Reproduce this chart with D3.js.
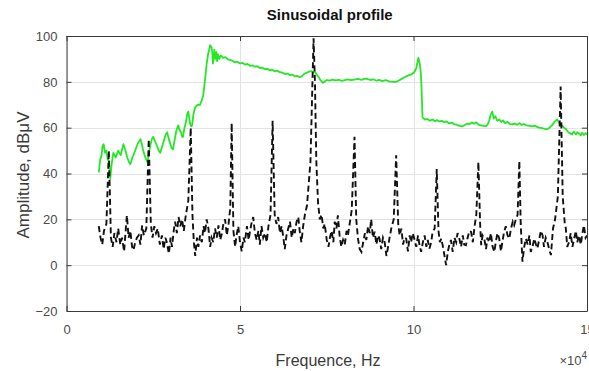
<!DOCTYPE html>
<html><head><meta charset="utf-8">
<script src="https://cdn.jsdelivr.net/npm/d3@7/dist/d3.min.js"></script>
<style>body{margin:0;background:#fff}svg{display:block}</style>
</head><body>
<svg id="c" width="589" height="371"></svg>
<script>
// ---- data (frequency in units of 1e4 Hz, amplitude in dBµV) ----
const freqTicks = [0, 5, 10, 15];
const ampTicks = [-20, 0, 20, 40, 60, 80, 100];

const greenFreq = [0.93,0.97,1.01,1.04,1.07,1.11,1.15,1.19,1.22,1.26,1.30,1.35,1.42,1.49,1.56,1.64,1.70,1.75,1.80,1.84,1.90,1.98,2.05,2.13,2.17,2.21,2.27,2.33,2.37,2.41,2.46,2.50,2.55,2.61,2.66,2.70,2.76,2.82,2.86,2.90,2.95,2.99,3.03,3.07,3.12,3.17,3.22,3.26,3.30,3.33,3.36,3.40,3.45,3.48,3.51,3.54,3.56,3.59,3.62,3.66,3.71,3.78,3.85,3.90,3.94,3.97,4.00,4.04,4.08,4.14,4.18,4.20,4.22,4.24,4.26,4.29,4.32,4.34,4.37,4.40,4.45,4.51,4.58,4.65,4.71,4.78,4.85,4.92,5.00,5.07,5.15,5.22,5.29,5.36,5.43,5.50,5.57,5.64,5.72,5.79,5.86,5.93,6.00,6.07,6.15,6.22,6.30,6.37,6.44,6.51,6.58,6.65,6.72,6.78,6.85,6.93,7.00,7.05,7.10,7.16,7.22,7.27,7.33,7.39,7.45,7.50,7.58,7.67,7.75,7.85,7.93,8.02,8.10,8.20,8.30,8.40,8.50,8.58,8.65,8.75,8.85,8.93,9.02,9.10,9.20,9.30,9.40,9.51,9.58,9.66,9.74,9.82,9.89,9.96,10.03,10.08,10.14,10.18,10.21,10.23,10.26,10.33,10.40,10.47,10.55,10.62,10.68,10.75,10.82,10.88,10.95,11.02,11.10,11.18,11.25,11.33,11.41,11.48,11.55,11.61,11.68,11.75,11.81,11.88,11.95,12.02,12.09,12.14,12.18,12.22,12.27,12.31,12.36,12.41,12.47,12.53,12.58,12.64,12.71,12.78,12.84,12.92,12.99,13.05,13.12,13.18,13.25,13.32,13.42,13.50,13.56,13.62,13.70,13.78,13.85,13.92,13.99,14.06,14.14,14.20,14.28,14.34,14.40,14.46,14.52,14.57,14.62,14.68,14.72,14.77,14.82,14.86,14.91,14.96,15.00];
const greenAmp  = [40.5,46,48,52,52.8,49,50,46,45.5,37.6,44,49,47,50,48,52.8,50,47,45,44,47,50,53,55,53,50,47,45,48,52,55,56,54,52,50,49,52,55,57,58,55,53,51,50.6,55,59,61,59,58,56,56,60,63,66,67,64,62,60.6,61,66,69,70,70,72,74,78,82,88,92,96,95,93,88,90,94,90,93,89,92,90,91.5,90.5,90.8,89.8,89.6,89.2,88.5,88.8,88,88.3,87.5,87.8,87,87.2,86.6,86.8,86,86.2,85.5,85.7,85,85.3,84.6,84.9,84.2,84.0,83.4,83.6,82.9,83.1,82.4,82.6,82,82.4,83.5,84,84.5,84.7,84.3,84.4,83,82,80.5,79.6,80.2,80.8,80.5,81,80.6,80.9,80.4,80.7,81.1,80.7,81,81.3,80.9,81.3,81.4,80.8,81.1,80.5,80.8,80.3,80.7,80.2,80,80,80.6,81.3,82,82.6,83,83.4,84.4,86,90.5,88,84,78,64.5,63.5,63.8,63,63.6,62.8,63.3,62.7,63,62.4,62.7,61.9,62.2,61.5,61.2,60.8,60.6,61.2,61.8,61.5,62.2,61.8,62.3,61.2,61,60.8,60.6,61.5,63,65.5,67,64,65,63,63.6,62.5,63.2,62,62.5,61.5,61.4,61.8,61.2,62,61.2,61.6,61,60.9,60.6,60.9,60.3,60,59.8,59.5,59.3,60,61,62.5,63.6,62,61,60,59.3,58,57.5,57,58.2,57,58,57.5,56.6,57.8,56.8,57.6,57];

const blackFreq = [0.93,0.98,1.03,1.08,1.15,1.22,1.28,1.33,1.38,1.44,1.49,1.55,1.60,1.66,1.70,1.74,1.79,1.84,1.89,1.93,1.98,2.03,2.08,2.13,2.18,2.23,2.30,2.37,2.43,2.48,2.53,2.58,2.63,2.69,2.75,2.80,2.85,2.89,2.95,3.00,3.04,3.09,3.13,3.18,3.23,3.28,3.33,3.38,3.44,3.51,3.58,3.63,3.67,3.71,3.76,3.80,3.85,3.90,3.95,3.99,4.04,4.09,4.14,4.18,4.23,4.28,4.33,4.38,4.43,4.48,4.52,4.57,4.62,4.67,4.72,4.76,4.81,4.86,4.90,4.95,5.00,5.05,5.10,5.14,5.20,5.25,5.29,5.34,5.38,5.43,5.48,5.53,5.57,5.62,5.67,5.72,5.77,5.82,5.88,5.94,6.00,6.05,6.10,6.15,6.20,6.25,6.29,6.34,6.39,6.44,6.49,6.54,6.58,6.63,6.68,6.72,6.77,6.82,6.87,6.93,7.03,7.12,7.16,7.20,7.25,7.30,7.35,7.40,7.44,7.50,7.55,7.59,7.64,7.69,7.73,7.78,7.82,7.87,7.92,7.97,8.02,8.07,8.11,8.16,8.22,8.30,8.35,8.40,8.45,8.50,8.55,8.60,8.64,8.69,8.74,8.78,8.83,8.88,8.93,8.98,9.02,9.07,9.12,9.17,9.22,9.26,9.31,9.36,9.43,9.50,9.56,9.60,9.65,9.70,9.74,9.79,9.84,9.89,9.93,9.98,10.03,10.08,10.13,10.17,10.22,10.27,10.32,10.37,10.41,10.46,10.51,10.55,10.61,10.67,10.72,10.76,10.80,10.85,10.89,10.94,10.99,11.03,11.08,11.13,11.18,11.23,11.27,11.32,11.37,11.42,11.46,11.51,11.56,11.61,11.66,11.71,11.76,11.81,11.87,11.92,11.95,11.99,12.04,12.09,12.13,12.18,12.23,12.28,12.33,12.37,12.42,12.47,12.52,12.56,12.61,12.66,12.71,12.76,12.81,12.86,12.90,12.95,13.00,13.05,13.09,13.14,13.19,13.24,13.29,13.34,13.38,13.43,13.48,13.53,13.57,13.62,13.67,13.72,13.76,13.81,13.86,13.91,13.96,14.02,14.08,14.16,14.24,14.30,14.36,14.39,14.43,14.48,14.53,14.58,14.63,14.68,14.72,14.77,14.82,14.87,14.91,14.96,15.00];
const blackAmp  = [17,12,9,15,18,50,12,8,14,10,16,9,12,6,14,21.7,12,15,8,6.5,10,12,13,9,17.4,13,16,55,18,12,17,14,16,9,13,7,12,10,5,12,8,15,19,14,21,17,20,15,22,28,60,22,10,4,12,8,13,10,17,14,20,16,8,12,10,16,12,17.4,11,14,18,20,13,18,25,62,15,8,13,17,10,6,12,10,17,11,15,19,21,14,11,15,9,17,12,14,10,17,22,63,22,18,21,14,17,12,7,13,16,19,12,16,14,19,21,15,10,17,22,26,45,99,80,45,27,20,22,16,18,11,8,12,15,10,19,16,21.7,13,8,11,9,15,13,18,24,56,20,11.6,7,5.8,10,14,11,17,14,20,12,14.6,9,13,11.6,7,12,10,4,7.3,12,16,20,48,18,13,16,9,12,11.6,6,13,10,14,11,8,13,9,5.8,10,13,8,11,7.3,10,14.5,16,42,15,10,11.6,8,4.4,0,6,8.7,11,5.8,12,10,14,11.6,8,13,9,8.7,12,15,14.5,10,17,22,45,18,8.7,13,11.6,7,12,10,14,8,5.8,10,14,11.6,6,10,14.5,17,13,11.6,16,19,17.4,20,22,45.5,18,1.5,8,11.6,9,13,5.8,8,11.6,9,7.3,11,15,13,8,12,10,7,4.4,16,20,30,78,30,18,16,8,10,14,8,11.6,15,10,13,9,14,17.4,12,13];

const titleText = "Sinusoidal profile";
const xLabel = "Frequence, Hz";
const yLabel = "Amplitude, dBμV";

// ---- layout ----
const L = 66.5, R = 587, T = 36, B = 311;
const svg = d3.select("#c");
const x = d3.scaleLinear().domain([0, 15]).range([L, R]);
const y = d3.scaleLinear().domain([-20, 100]).range([B, T]);
const font = "'Liberation Sans', Arial, Helvetica, sans-serif";

// grid
const grid = svg.append("g").attr("stroke", "#e3e3e3").attr("stroke-width", 1);
ampTicks.forEach(v => grid.append("line").attr("x1", L).attr("x2", R).attr("y1", Math.round(y(v)) + 0.5).attr("y2", Math.round(y(v)) + 0.5));
freqTicks.forEach(v => grid.append("line").attr("y1", T).attr("y2", B).attr("x1", Math.round(x(v)) + 0.5).attr("x2", Math.round(x(v)) + 0.5));

// lines
svg.append("clipPath").attr("id", "pc").append("rect").attr("x", L).attr("y", T).attr("width", R - L).attr("height", B - T);
const plot = svg.append("g").attr("clip-path", "url(#pc)");
const line = d3.line().x(d => x(d[0])).y(d => y(d[1]));
plot.append("path").datum(greenFreq.map((f, i) => [f, greenAmp[i]]))
  .attr("d", line).attr("fill", "none").attr("stroke", "#25e825").attr("stroke-width", 1.8).attr("stroke-linejoin", "round");
plot.append("path").datum(blackFreq.map((f, i) => [f, blackAmp[i]]))
  .attr("d", line).attr("fill", "none").attr("stroke", "#111").attr("stroke-width", 1.9)
  .attr("stroke-dasharray", "6,3.5");

// axes
function style(g) {
  g.select(".domain").attr("stroke", "#3a3a3a");
  g.selectAll(".tick line").attr("stroke", "#3a3a3a");
  g.selectAll(".tick text").attr("fill", "#4a4a4a").style("font-family", font).style("font-size", "13px");
}
svg.append("g").attr("transform", `translate(0,${B})`)
  .call(d3.axisBottom(x).tickValues(freqTicks).tickFormat(d3.format("d")).tickSizeInner(-5).tickSizeOuter(0).tickPadding(14))
  .call(style);
svg.append("g").attr("transform", `translate(${L},0)`)
  .call(d3.axisLeft(y).tickValues(ampTicks).tickFormat(d3.format("d")).tickSizeInner(-5).tickSizeOuter(0).tickPadding(9))
  .call(style);
svg.append("g").attr("transform", `translate(0,${T})`)
  .call(d3.axisTop(x).tickValues(freqTicks).tickFormat("").tickSizeInner(-5).tickSizeOuter(0))
  .call(style);
svg.append("g").attr("transform", `translate(${R},0)`)
  .call(d3.axisRight(y).tickValues(ampTicks).tickFormat("").tickSizeInner(-5).tickSizeOuter(0))
  .call(style);

// texts
svg.append("text").attr("x", (L + R) / 2 + 3).attr("y", 20).attr("text-anchor", "middle")
  .style("font-family", font).style("font-size", "15px").style("font-weight", "bold").attr("fill", "#111").text(titleText);
svg.append("text").attr("x", 328).attr("y", 366).attr("text-anchor", "middle")
  .style("font-family", font).style("font-size", "16px").attr("fill", "#3a3a3a").text(xLabel);
svg.append("text").attr("transform", "translate(29,175) rotate(-90)").attr("text-anchor", "middle")
  .style("font-family", font).style("font-size", "17px").attr("fill", "#3a3a3a").text(yLabel);
const mult = svg.append("text").attr("x", 587).attr("y", 365).attr("text-anchor", "end")
  .style("font-family", font).style("font-size", "13px").attr("fill", "#4a4a4a");
mult.append("tspan").text("×10");
mult.append("tspan").attr("dy", -6).style("font-size", "10px").text("4");
</script>
</body></html>
